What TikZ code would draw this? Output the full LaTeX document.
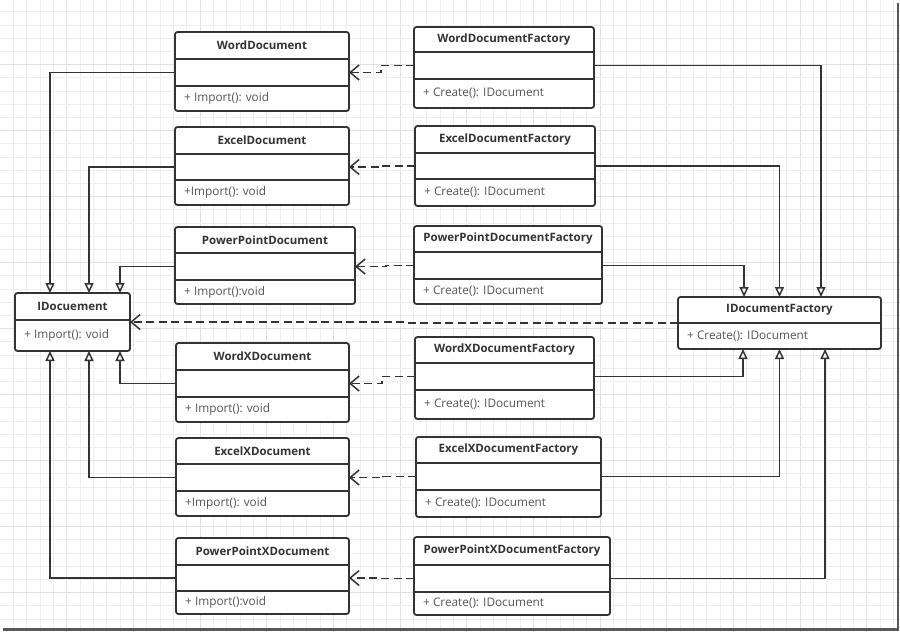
\documentclass[tikz,border=0pt]{standalone}
\usepackage{fontspec}
\setmainfont{Open Sans}
\usetikzlibrary{arrows.meta,calc}
\definecolor{ink}{HTML}{333333}
\definecolor{attrc}{HTML}{555555}
\definecolor{gridminor}{HTML}{EEEEEE}
\definecolor{gridmajor}{HTML}{E2E2E2}
\tikzset{
  clsbox/.style={draw=ink, line width=1.8pt, rounded corners=2.5pt, fill=white, inner sep=0pt, outer sep=0pt},
  divline/.style={draw=ink, line width=1.7pt},
  titletext/.style={font=\fontsize{11.5}{13}\selectfont\bfseries, text=ink, inner sep=0pt},
  attrtext/.style={font=\fontsize{11.8}{13}\selectfont, text=attrc, inner sep=0pt},
  gen/.style={draw=ink, line width=1.7pt, -{Triangle[open, length=10pt, width=9pt, line width=1.5pt]}},
  dep/.style={draw=ink, line width=1.7pt, dash pattern=on 8pt off 4.5pt, -{Straight Barb[length=9pt, width=15pt, line width=1.5pt]}},
}
% #1 name, #2 x1, #3 y1, #4 x2, #5 y2, #6 div1, #7 div2, #8 title, #9 attr
\newcommand\umlthree[9]{%
  \node[clsbox, minimum width={(#4-#2)*1pt}, minimum height={(#5-#3)*1pt}] (#1) at ({(#2+#4)/2},{(#3+#5)/2}) {};
  \draw[divline] (#2,#6) -- (#4,#6);
  \draw[divline] (#2,#7) -- (#4,#7);
  \node[titletext] (#1-t) at ({(#2+#4)/2},{(#3+#6)/2}) {#8};
  \node[attrtext, anchor=west] (#1-a) at ({#2+9},{(#7+#5)/2}) {#9};
  \coordinate (#1-m) at ({(#2+#4)/2},{(#6+#7)/2});
}
% #1 name, #2 x1, #3 y1, #4 x2, #5 y2, #6 div, #7 title, #8 attr
\newcommand\umltwo[8]{%
  \node[clsbox, minimum width={(#4-#2)*1pt}, minimum height={(#5-#3)*1pt}] (#1) at ({(#2+#4)/2},{(#3+#5)/2}) {};
  \draw[divline] (#2,#6) -- (#4,#6);
  \node[titletext] (#1-t) at ({(#2+#4)/2},{(#3+#6)/2}) {#7};
  \node[attrtext, anchor=west] (#1-a) at ({#2+9},{(#6+#5)/2}) {#8};
}
\begin{document}
\begin{tikzpicture}[x=1pt, y=-1pt]
\useasboundingbox (0,0) rectangle (900,632);
\fill[white] (0,0) rectangle (900,632);
% grid
\foreach \i in {1,...,67} {
  \pgfmathsetmacro\gx{\i*13.333}
  \pgfmathtruncatemacro\gm{mod(\i,5)}
  \ifnum\gm=0 \draw[gridmajor, line width=0.8pt] (\gx,0) -- (\gx,632);
  \else \draw[gridminor, line width=0.7pt] (\gx,0) -- (\gx,632); \fi
}
\foreach \i in {1,...,47} {
  \pgfmathsetmacro\gy{\i*13.2-1.5}
  \pgfmathtruncatemacro\gm{mod(\i,5)}
  \ifnum\gm=0 \draw[gridmajor, line width=0.8pt] (0,\gy) -- (900,\gy);
  \else \draw[gridminor, line width=0.7pt] (0,\gy) -- (900,\gy); \fi
}
% frame shadow
\draw[black!65, line width=2.5pt] (898,3) -- (898,630);
\draw[black!65, line width=2.5pt] (3,629.5) -- (899,629.5);

% document classes
\umlthree{wd}{175}{32}{349}{111}{59}{86}{WordDocument}{+ Import(): void}
\umlthree{ed}{175}{127}{349}{205}{154}{180}{ExcelDocument}{+Import(): void}
\umlthree{pd}{175}{227}{355}{304}{253}{280}{PowerPointDocument}{+ Import():void}
\umlthree{wxd}{176}{343}{349}{422}{370}{397}{WordXDocument}{+ Import(): void}
\umlthree{exd}{176}{438}{349}{516}{464}{491}{ExcelXDocument}{+Import(): void}
\umlthree{pxd}{176}{538}{349}{614}{565}{591}{PowerPointXDocument}{+ Import():void}
\umltwo{idoc}{15}{293}{130}{351}{320}{IDocuement}{+ Import(): void}

% factory classes
\umlthree{wdf}{414}{27}{594}{108}{52}{79}{WordDocumentFactory}{+ Create(): IDocument}
\umlthree{edf}{415}{126}{595}{206}{153}{179}{ExcelDocumentFactory}{+ Create(): IDocument}
\umlthree{pdf}{414}{226}{602}{304}{252}{279}{PowerPointDocumentFactory}{+ Create(): IDocument}
\umlthree{wxdf}{415}{337}{594}{419}{363}{390}{WordXDocumentFactory}{+ Create(): IDocument}
\umlthree{exdf}{416}{437}{601}{517}{463}{490}{ExcelXDocumentFactory}{+ Create(): IDocument}
\umlthree{pxdf}{414}{537}{610}{615}{565}{592}{PowerPointXDocumentFactory}{+ Create(): IDocument}
\umltwo{idf}{678}{297}{881}{349}{323}{IDocumentFactory}{+ Create(): IDocument}

% generalisation: documents -> IDocuement
\draw[gen] (wd-m -| wd.west) -| ([xshift=-22.5pt]idoc.north);
\draw[gen] (ed-m -| ed.west) -| ([xshift=16.5pt]idoc.north);
\draw[gen] (pd-m -| pd.west) -| ([xshift=47.5pt]idoc.north);
\draw[gen] (wxd-m -| wxd.west) -| ([xshift=47.5pt]idoc.south);
\draw[gen] (exd-m -| exd.west) -| ([xshift=16.5pt]idoc.south);
\draw[gen] (pxd-m -| pxd.west) -| ([xshift=-22.5pt]idoc.south);

% generalisation: factories -> IDocumentFactory
\draw[gen] (wdf-m -| wdf.east) -| ([xshift=41.5pt]idf.north);
\draw[gen] (edf-m -| edf.east) -| ([xshift=0pt]idf.north);
\draw[gen] (pdf-m -| pdf.east) -| ([xshift=-35.5pt]idf.north);
\draw[gen] (wxdf-m -| wxdf.east) -| ([xshift=-36.5pt]idf.south);
\draw[gen] (exdf-m -| exdf.east) -| ([xshift=0pt]idf.south);
\draw[gen] (pxdf-m -| pxdf.east) -| ([xshift=45.5pt]idf.south);

% dependencies: factories -> documents
\draw[dep] (wdf-m -| wdf.west) -- ++(-33,0) |- (wd-m -| wd.east);
\draw[dep] (edf-m -| edf.west) -- ++(-33,0) |- (ed-m -| ed.east);
\draw[dep] (pdf-m -| pdf.west) -- ++(-28,0) |- (pd-m -| pd.east);
\draw[dep] (wxdf-m -| wxdf.west) -- ++(-33,0) |- (wxd-m -| wxd.east);
\draw[dep] (exdf-m -| exdf.west) -- ++(-33,0) |- (exd-m -| exd.east);
\draw[dep] (pxdf-m -| pxdf.west) -- ++(-33,0) |- (pxd-m -| pxd.east);
\draw[dep] (idf.west) -- ++(-273,0) |- (idoc.east);
\end{tikzpicture}
\end{document}
